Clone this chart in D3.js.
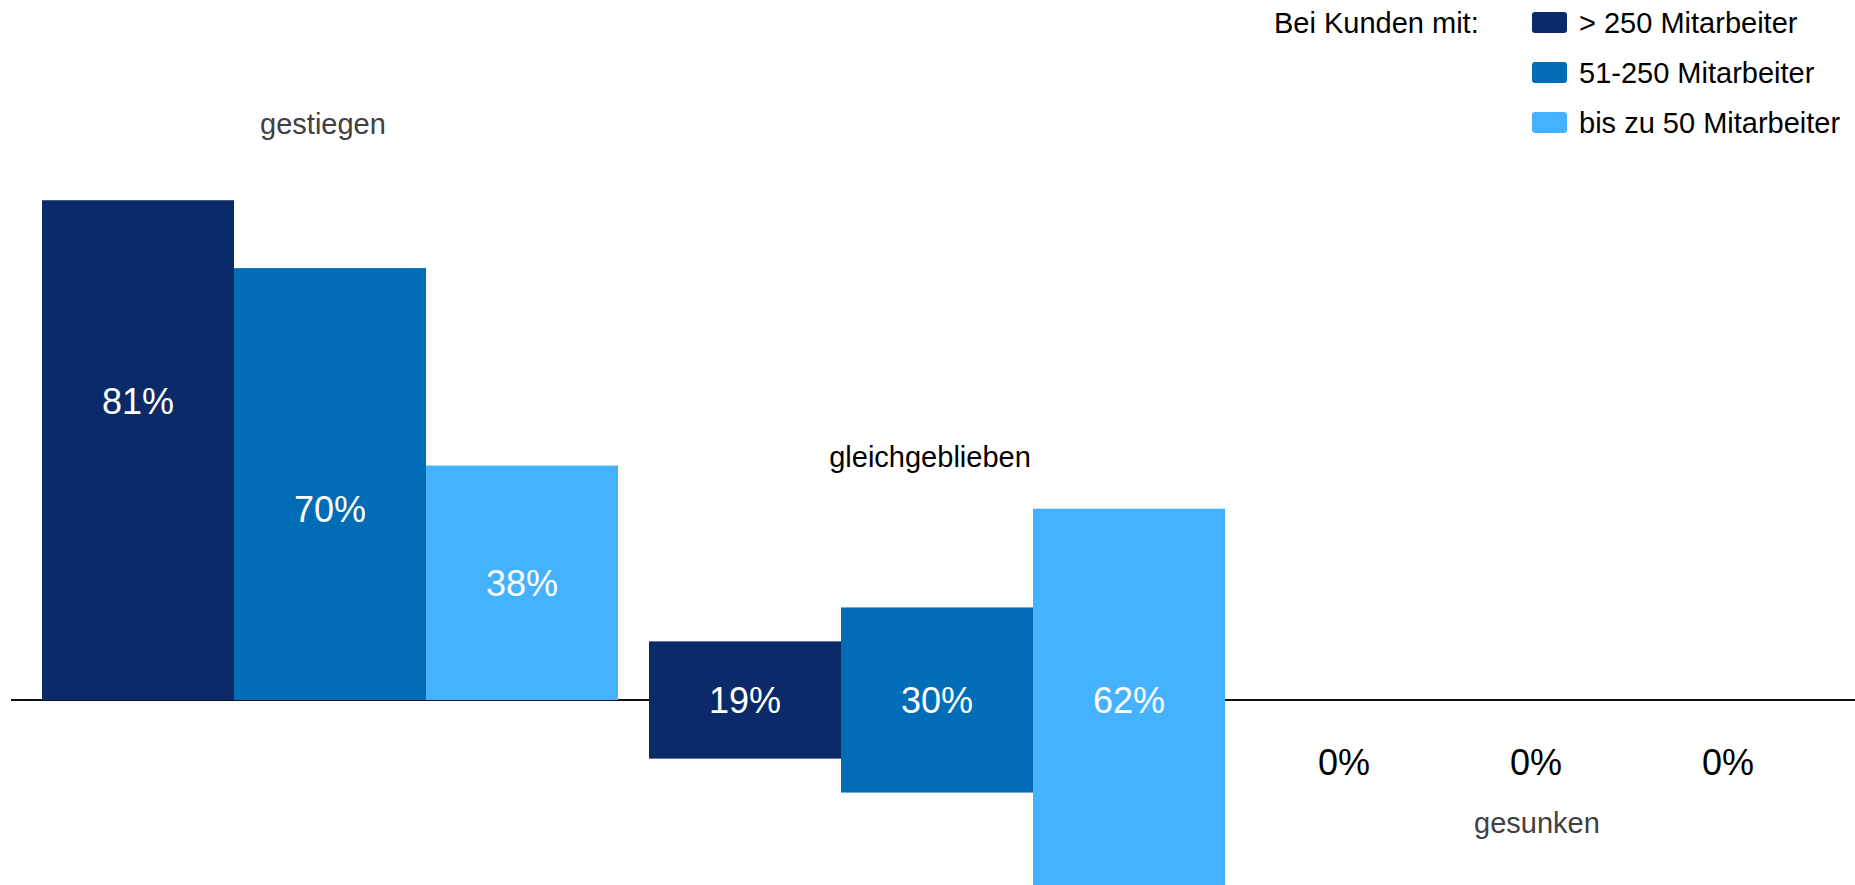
<!DOCTYPE html>
<html>
<head>
<meta charset="utf-8">
<script src="https://cdn.jsdelivr.net/npm/d3@7"></script>
<style>
  html, body { margin: 0; padding: 0; background: #fff; }
  svg { display: block; font-family: "Liberation Sans", Arial, sans-serif; }
</style>
</head>
<body>
<div id="chart"></div>
<script>
// categories (groups) and the three customer-size series
const categories = ["gestiegen", "gleichgeblieben", "gesunken"];
const seriesNames = ["> 250 Mitarbeiter", "51-250 Mitarbeiter", "bis zu 50 Mitarbeiter"];
const seriesColors = ["#0b2a69", "#006db6", "#45b2ff"];

// values in percent, one array per series (order = categories)
const big    = [81, 19, 0];
const medium = [70, 30, 0];
const small  = [38, 62, 0];

// where the labels of the first group sit, in percent units
const labelAtUp = [48.5, 31, 19];

const legendTitle = "Bei Kunden mit:";

const width = 1855, height = 885;
const baseY = 700;

const svg = d3.select("#chart")
  .append("svg")
  .attr("width", width)
  .attr("height", height);

const x = d3.scaleBand()
  .domain(categories)
  .range([42, 1832])
  .paddingInner(0.051)
  .paddingOuter(0);

const xs = d3.scaleBand()
  .domain(seriesNames)
  .range([0, x.bandwidth()])
  .padding(0);

// 0..100 % -> pixel height
const y = d3.scaleLinear()
  .domain([0, 100])
  .range([baseY, baseY - 617]);

const h = v => baseY - y(v);

// build flat rows
const allSeries = [big, medium, small];
const rows = [];
categories.forEach((c, ci) => {
  seriesNames.forEach((s, si) => {
    rows.push({cat: c, ci: ci, series: s, si: si, value: allSeries[si][ci]});
  });
});

// baseline
svg.append("line")
  .attr("x1", 11)
  .attr("x2", width)
  .attr("y1", baseY)
  .attr("y2", baseY)
  .attr("stroke", "#111")
  .attr("stroke-width", 2);

// bars: first group grows up, second is centred on the line, third hangs down
function barTop(d) {
  if (d.ci == 0) return y(d.value);
  if (d.ci == 1) return baseY - h(d.value) / 2;
  return baseY;
}

svg.append("g")
  .selectAll("rect")
  .data(rows)
  .join("rect")
    .attr("x", d => x(d.cat) + xs(d.series))
    .attr("y", d => barTop(d))
    .attr("width", xs.bandwidth())
    .attr("height", d => h(d.value))
    .attr("fill", d => seriesColors[d.si]);

// value labels
function labelY(d) {
  if (d.ci == 0) return y(labelAtUp[d.si]);
  if (d.ci == 1) return baseY;
  return baseY + 62;
}

svg.append("g")
  .selectAll("text")
  .data(rows)
  .join("text")
    .attr("x", d => x(d.cat) + xs(d.series) + xs.bandwidth() / 2 - (d.ci == 2 ? 8 : 0))
    .attr("y", d => labelY(d))
    .attr("dy", "0.36em")
    .attr("text-anchor", "middle")
    .attr("font-size", "36px")
    .attr("fill", d => d.value > 0 ? "#ffffff" : "#000000")
    .text(d => d.value + "%");

// category labels
const catLabelY = [134, 467, 833];
const catLabelColor = ["#404040", "#000000", "#404040"];
svg.append("g")
  .selectAll("text")
  .data(categories)
  .join("text")
    .attr("x", d => x(d) + x.bandwidth() / 2 - 7)
    .attr("y", (d, i) => catLabelY[i])
    .attr("text-anchor", "middle")
    .attr("font-size", "29px")
    .attr("fill", (d, i) => catLabelColor[i])
    .text(d => d);

// legend
const legend = svg.append("g");
legend.append("text")
  .attr("x", 1274)
  .attr("y", 33)
  .attr("font-size", "29px")
  .attr("fill", "#000")
  .text(legendTitle);

const item = legend.selectAll("g.item")
  .data(seriesNames)
  .join("g")
    .attr("class", "item")
    .attr("transform", (d, i) => `translate(1532, ${22.5 + i * 50})`);

item.append("rect")
  .attr("x", 0)
  .attr("y", -10.5)
  .attr("width", 35)
  .attr("height", 21)
  .attr("rx", 3)
  .attr("fill", (d, i) => seriesColors[i]);

item.append("text")
  .attr("x", 47)
  .attr("y", 10.5)
  .attr("font-size", "29px")
  .attr("fill", "#000")
  .text(d => d);
</script>
</body>
</html>
